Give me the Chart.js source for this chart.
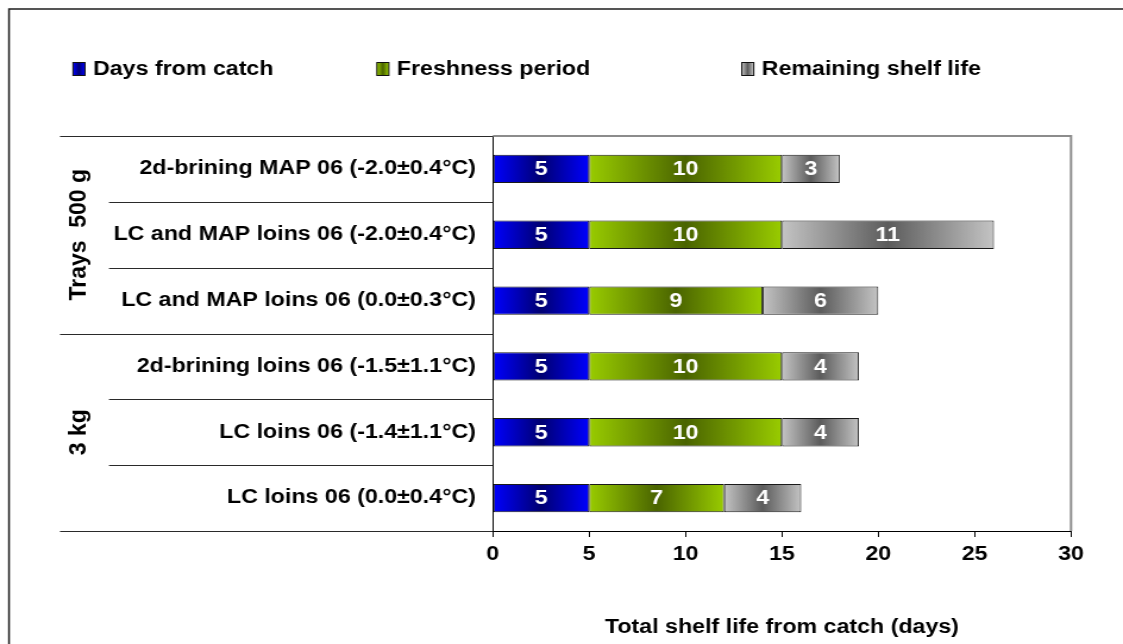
<!DOCTYPE html>
<html>
<head>
<meta charset="utf-8">
<title>Total shelf life from catch</title>
<script src="https://cdn.jsdelivr.net/npm/chart.js"></script>
<style>
  body { margin: 0; background: #fff; }
  #chart { display: block; }
</style>
</head>
<body>
<canvas id="chart"></canvas>
<script>
// data
const categories = [
  '2d-brining MAP 06 (-2.0±0.4°C)',
  'LC and MAP loins 06 (-2.0±0.4°C)',
  'LC and MAP loins 06 (0.0±0.3°C)',
  '2d-brining loins 06 (-1.5±1.1°C)',
  'LC loins 06 (-1.4±1.1°C)',
  'LC loins 06 (0.0±0.4°C)'
];
const daysFromCatch      = [5, 5, 5, 5, 5, 5];
const freshnessPeriod    = [10, 10, 9, 10, 10, 7];
const remainingShelfLife = [3, 11, 6, 4, 4, 4];
const seriesNames = ['Days from catch', 'Freshness period', 'Remaining shelf life'];
const groupNames  = ['Trays  500 g', '3 kg'];
const groupStarts = [0, 3];
const xMin = 0, xMax = 30, xStep = 5;
const xTitle = 'Total shelf life from catch (days)';

// the original text is wide, so the canvas is drawn narrower and stretched
const SX = 1.19;
const W = 1123, H = 644;
const FONT = "'Liberation Sans', Arial, sans-serif";
const FS = 19.5;

// edge / middle colours of the shaded bars
const shades = [
  ['#0000ff', '#000072'],
  ['#99cc00', '#4a6400'],
  ['#c4c4c4', '#5c5c5c']
];

function barFill(edge, mid) {
  return function (c) {
    const chart = c.chart, xs = chart.scales.x;
    if (c.type !== 'data' || !xs) return edge;
    let start = 0;
    for (let k = 0; k < c.datasetIndex; k++) start += chart.data.datasets[k].data[c.dataIndex];
    const x0 = xs.getPixelForValue(start);
    const x1 = xs.getPixelForValue(start + c.raw);
    if (!isFinite(x0) || !isFinite(x1) || x1 - x0 < 1) return edge;
    const g = chart.ctx.createLinearGradient(x0, 0, x1, 0);
    g.addColorStop(0, edge);
    g.addColorStop(0.5, mid);
    g.addColorStop(1, edge);
    return g;
  };
}

const decor = {
  id: 'decor',
  beforeDraw(chart) {
    const ctx = chart.ctx;
    ctx.save();
    ctx.strokeStyle = '#1e1e1e';
    ctx.lineWidth = 1.5;
    ctx.beginPath();
    ctx.moveTo(9 / SX, H);
    ctx.lineTo(9 / SX, 9);
    ctx.lineTo(chart.width, 9);
    ctx.stroke();
    ctx.restore();
  },
  afterDatasetsDraw(chart) {
    const ctx = chart.ctx;
    ctx.save();
    ctx.fillStyle = '#fff';
    ctx.font = 'bold ' + FS + 'px ' + FONT;
    ctx.textAlign = 'center';
    ctx.textBaseline = 'middle';
    chart.data.datasets.forEach((ds, d) => {
      chart.getDatasetMeta(d).data.forEach((el, i) => {
        ctx.fillText(String(ds.data[i]), (el.x + el.base) / 2, el.y + 1);
      });
    });
    ctx.restore();
  },
  afterDraw(chart) {
    const ctx = chart.ctx, a = chart.chartArea, ys = chart.scales.y;
    const n = categories.length;
    ctx.save();

    // plot area frame (top and right)
    ctx.strokeStyle = '#8c8c8c';
    ctx.lineWidth = 2;
    ctx.beginPath();
    ctx.moveTo(a.left, a.top);
    ctx.lineTo(a.right, a.top);
    ctx.lineTo(a.right, a.bottom);
    ctx.stroke();

    // row separators in the label area
    ctx.strokeStyle = '#2a2a2a';
    ctx.lineWidth = 1;
    for (let i = 0; i <= n; i++) {
      let y;
      if (i === 0) y = a.top;
      else if (i === n) y = a.bottom;
      else y = (ys.getPixelForValue(i - 1) + ys.getPixelForValue(i)) / 2;
      const long = i === n || groupStarts.includes(i);
      ctx.beginPath();
      ctx.moveTo((long ? 60 : 109) / SX, Math.round(y) + 0.5);
      ctx.lineTo(a.left, Math.round(y) + 0.5);
      ctx.stroke();
    }

    // group labels, rotated (undo the horizontal stretch for these)
    ctx.fillStyle = '#000';
    ctx.font = 'bold 23px ' + FONT;
    ctx.textAlign = 'center';
    ctx.textBaseline = 'middle';
    groupNames.forEach((g, k) => {
      const first = groupStarts[k];
      const last = k + 1 < groupStarts.length ? groupStarts[k + 1] - 1 : n - 1;
      const yc = (ys.getPixelForValue(first) + ys.getPixelForValue(last)) / 2;
      ctx.save();
      ctx.translate(79 / SX, yc);
      ctx.scale(1 / SX, 1);
      ctx.rotate(-Math.PI / 2);
      ctx.fillText(g, 0, 0);
      ctx.restore();
    });

    // legend
    const legendX = [73, 377, 742];
    const ly = 69;
    ctx.font = 'bold ' + FS + 'px ' + FONT;
    ctx.textAlign = 'left';
    chart.data.datasets.forEach((ds, d) => {
      const bx = legendX[d] / SX, bw = 12 / SX, bh = 13;
      const g = ctx.createLinearGradient(bx, 0, bx + bw, 0);
      g.addColorStop(0, shades[d][0]);
      g.addColorStop(0.5, shades[d][1]);
      g.addColorStop(1, shades[d][0]);
      ctx.fillStyle = g;
      ctx.fillRect(bx, ly - bh / 2, bw, bh);
      ctx.strokeStyle = '#111';
      ctx.lineWidth = 1;
      ctx.strokeRect(bx, ly - bh / 2, bw, bh);
      ctx.fillStyle = '#000';
      ctx.fillText(ds.label, (legendX[d] + 20) / SX, ly + 1);
    });
    ctx.restore();
  }
};

const canvas = document.getElementById('chart');
canvas.width = Math.round(W / SX);
canvas.height = H;
// inline size set before Chart.js starts, so it keeps it
canvas.style.width = W + 'px';
canvas.style.height = H + 'px';

const seriesData = [daysFromCatch, freshnessPeriod, remainingShelfLife];

new Chart(canvas, {
  type: 'bar',
  data: {
    labels: categories,
    datasets: seriesData.map((vals, d) => ({
      label: seriesNames[d],
      data: vals,
      backgroundColor: barFill(shades[d][0], shades[d][1]),
      borderColor: '#1a1a1a',
      borderWidth: 1,
      borderSkipped: false,
      barPercentage: 0.43,
      categoryPercentage: 1
    }))
  },
  options: {
    indexAxis: 'y',
    responsive: false,
    animation: false,
    devicePixelRatio: 1,
    layout: { padding: { left: 0, right: (W - 1071) / SX, top: 136, bottom: 0 } },
    plugins: {
      legend: { display: false },
      tooltip: { enabled: false }
    },
    scales: {
      x: {
        stacked: true,
        min: xMin,
        max: xMax,
        ticks: {
          stepSize: xStep,
          color: '#000',
          padding: 6,
          font: { family: FONT, size: FS, weight: 'bold' }
        },
        grid: { drawOnChartArea: false, drawTicks: true, tickLength: 6, color: '#000' },
        border: { display: true, color: '#000', width: 1 },
        title: {
          display: true,
          text: xTitle,
          color: '#000',
          padding: { top: 0, bottom: 5 },
          font: { family: FONT, size: FS, weight: 'bold' }
        },
        afterFit(scale) { scale.height = H - 531; }
      },
      y: {
        stacked: true,
        ticks: {
          color: '#000',
          padding: 17 / SX,
          autoSkip: false,
          font: { family: FONT, size: FS, weight: 'bold' }
        },
        grid: { display: false, drawTicks: false },
        border: { display: true, color: '#000', width: 1 },
        afterFit(scale) { scale.width = 493 / SX; }
      }
    }
  },
  plugins: [decor]
});
</script>
</body>
</html>
